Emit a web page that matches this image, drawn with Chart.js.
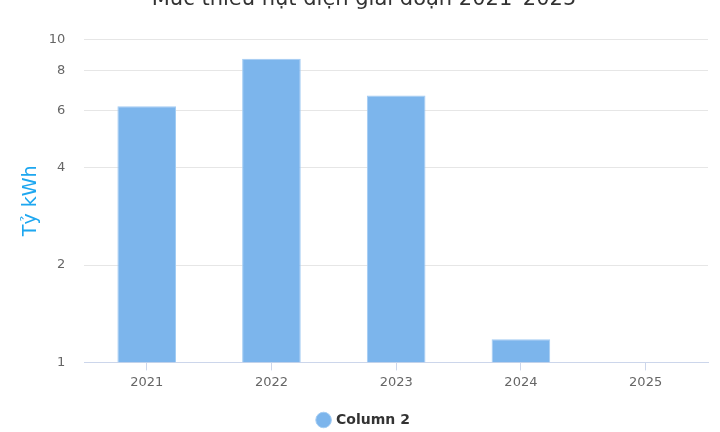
<!DOCTYPE html>
<html>
<head>
<meta charset="utf-8">
<script src="https://cdn.jsdelivr.net/npm/chart.js@4"></script>
<style>
  html, body { margin: 0; padding: 0; background: #fff; overflow: hidden; }
  #khung { position: absolute; left: 0; top: -13px; width: 720px; height: 445px; }
</style>
</head>
<body>
<div id="khung"><canvas id="grafico"></canvas></div>
<script>
const tieuDe = "Mức thiếu hụt điện giai đoạn 2021–2025";
const nam = ["2021", "2022", "2023", "2024", "2025"];
const thieuHut = [6.2, 8.7, 6.7, 1.18, null];
const mocTrucY = [1, 2, 4, 6, 8, 10];

const ctx = document.getElementById('grafico').getContext('2d');
const chart = new Chart(ctx, {
    type: 'bar',
    data: {
        labels: nam,
        datasets: [{
            label: 'Column 2',
            data: thieuHut,
            backgroundColor: '#7cb5ec',
            borderColor: '#a3ccf3',
            borderWidth: 1,
            categoryPercentage: 0.47,
            barPercentage: 1
        }]
    },
    options: {
        responsive: true,
        maintainAspectRatio: false,
        animation: false,
        layout: { padding: { left: 20, right: 12, top: 0, bottom: -5 } },
        plugins: {
            title: {
                display: true,
                text: tieuDe,
                color: '#333333',
                font: { family: 'DejaVu Sans', size: 21, weight: 'normal' },
                padding: { top: 0, bottom: 27 }
            },
            legend: {
                position: 'bottom',
                labels: {
                    usePointStyle: true,
                    pointStyle: 'circle',
                    boxWidth: 11,
                    boxHeight: 11,
                    color: '#333333',
                    font: { family: 'DejaVu Sans', size: 14, weight: 'bold' },
                    padding: 8
                }
            },
            tooltip: { enabled: false }
        },
        scales: {
            x: {
                afterFit: (eje) => { eje.height += 11; },
                grid: {
                    display: true,
                    offset: false,
                    drawOnChartArea: false,
                    drawTicks: true,
                    tickLength: 8,
                    color: '#ccd6eb'
                },
                border: { color: '#ccd6eb', width: 1 },
                ticks: {
                    color: '#666666',
                    font: { family: 'DejaVu Sans', size: 13 },
                    padding: 4
                }
            },
            y: {
                type: 'logarithmic',
                min: 1,
                max: 10,
                afterBuildTicks: (eje) => {
                    eje.ticks = mocTrucY.map(v => ({ value: v }));
                },
                grid: {
                    color: '#e6e6e6',
                    drawTicks: false
                },
                border: { display: false },
                ticks: {
                    color: '#666666',
                    font: { family: 'DejaVu Sans', size: 13 },
                    padding: 19,
                    callback: (v) => String(v)
                },
                title: {
                    display: true,
                    text: 'Tỷ kWh',
                    color: '#1ea7f0',
                    font: { family: 'DejaVu Sans', size: 19 },
                    padding: { top: 0, bottom: -13 }
                }
            }
        }
    }
});
</script>
</body>
</html>
